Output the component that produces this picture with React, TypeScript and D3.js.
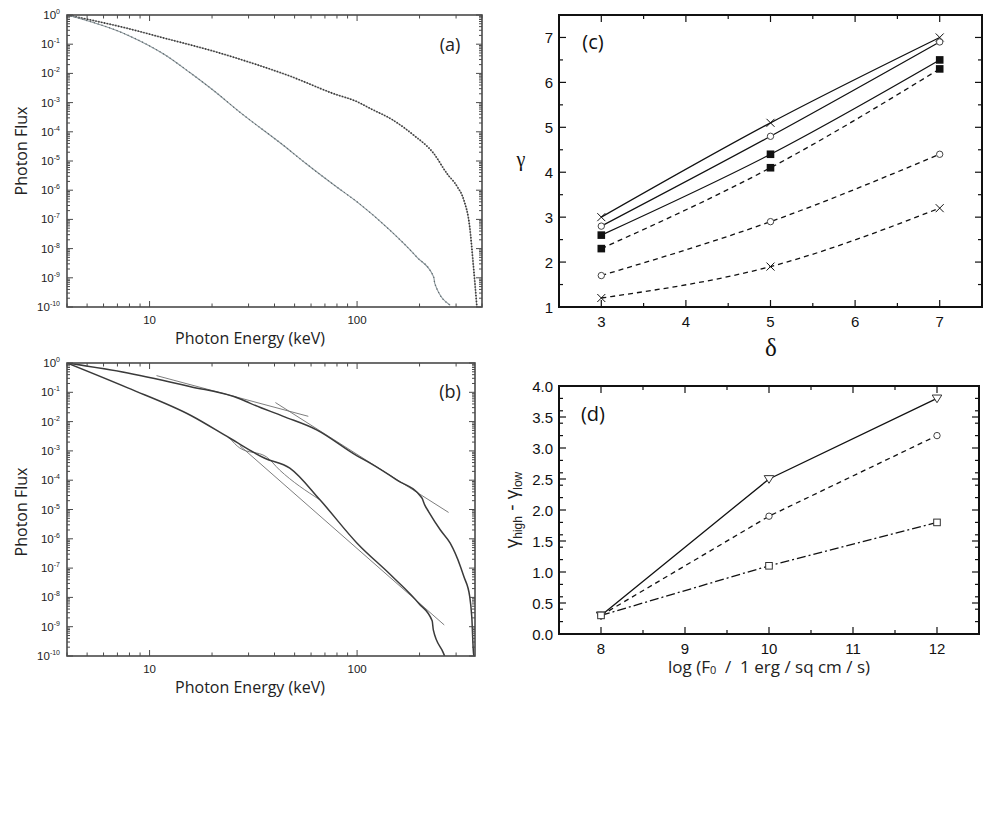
import React from 'react';
import * as d3 from 'd3';

type Pt = [number, number]; // [energy keV, log10 flux]

// ---- panels (a) and (b): photon spectra
const energyLabels = [10, 100];
const fluxExponents = [0, -1, -2, -3, -4, -5, -6, -7, -8, -9, -10];

const aHard: Pt[] = [
  [4, 0], [7.85, -0.46], [11.9, -0.8], [19.9, -1.22], [31.6, -1.66], [47.4, -2.09],
  [76.8, -2.69], [100, -2.97], [115.6, -3.2], [149, -3.6], [187, -4.11], [234, -4.74],
  [271, -5.43], [304, -5.88], [327, -6.34], [349, -7.26], [364, -8.63], [378, -10],
];
const aSoft: Pt[] = [
  [4, 0], [7.85, -0.69], [11.9, -1.37], [15.7, -1.98], [20.2, -2.57], [27.7, -3.37],
  [44.1, -4.46], [56.1, -5.06], [79.8, -5.89], [100, -6.4], [144, -7.37], [194, -8.29],
  [234, -8.97], [237, -9.2], [281, -9.94],
];

const bHard: Pt[] = [
  [4, 0], [7.85, -0.34], [15.6, -0.8], [27.2, -1.22], [30.4, -1.37], [44.1, -1.82],
  [63.8, -2.28], [100, -3.17], [115.6, -3.42], [155, -3.99], [205, -4.6], [212, -4.85],
  [221, -5.07], [252, -5.7], [281, -6.15], [315, -6.95], [327, -7.29], [349, -7.97],
  [357, -8.66], [364, -9.91], [366, -10],
];
const bHardLowFit: Pt[] = [[10.8, -0.43], [58.2, -1.82]];
const bHardHighFit: Pt[] = [[40.4, -1.35], [276, -5.1]];
const bSoft: Pt[] = [
  [4, 0], [7.85, -0.85], [15.9, -1.8], [24.3, -2.56], [35.9, -3.25], [47.4, -3.59],
  [66.2, -4.67], [100, -6.15], [147, -7.27], [198, -8.2], [230, -8.8], [233, -9.11],
  [261, -9.91], [264, -10],
];
const bSoftAlt: Pt[] = [[24.3, -2.56], [27.2, -2.9], [36.5, -3.2], [42.3, -3.65], [66.2, -4.67]];
const bSoftHighFit: Pt[] = [[27.2, -2.82], [263, -8.94]];

// ---- panel (c): gamma vs delta
const deltaValues = [3, 5, 7];
const deltaTicks = [3, 4, 5, 6, 7];
const gammaTicks = [1, 2, 3, 4, 5, 6, 7];
const gammaSolidCross = [3.0, 5.1, 7.0];
const gammaSolidCircle = [2.8, 4.8, 6.9];
const gammaSolidSquare = [2.6, 4.4, 6.5];
const gammaDashSquare = [2.3, 4.1, 6.3];
const gammaDashCircle = [1.7, 2.9, 4.4];
const gammaDashCross = [1.2, 1.9, 3.2];

// ---- panel (d): gamma_high - gamma_low vs log F0
const logF0Values = [8, 10, 12];
const logF0Ticks = [8, 9, 10, 11, 12];
const diffTicks = [0, 0.5, 1, 1.5, 2, 2.5, 3, 3.5, 4];
const diffSolidTriangle = [0.3, 2.5, 3.8];
const diffDashCircle = [0.3, 1.9, 3.2];
const diffDashDotSquare = [0.3, 1.1, 1.8];

const SANS = '"Liberation Sans", Arial, sans-serif';
const OPEN = '"Open Sans", "Noto Sans", sans-serif';
const SERIF = '"Liberation Serif", "DejaVu Serif", serif';
const NB = '\u00a0';

interface Curve { pts: Pt[]; stroke: string; width: number; dash?: string }

interface LogPanelProps {
  id: string; x0: number; y0: number; x1: number; y1: number; eMax: number;
  tag: string; tagY: number; fluxLabelY: number; curves: Curve[];
}

const LogPanel = ({ id, x0, y0, x1, y1, eMax, tag, tagY, fluxLabelY, curves }: LogPanelProps) => {
  const xs = d3.scaleLog().domain([4, eMax]).range([x0, x1]);
  const ys = d3.scaleLog().domain([1e-10, 1]).range([y1, y0]);
  const line = d3.line<Pt>()
    .x(d => xs(d[0]))
    .y(d => ys(Math.pow(10, d[1])))
    .curve(d3.curveMonotoneX);
  const isDecade = (v: number) => Math.abs(Math.log10(v) - Math.round(Math.log10(v))) < 1e-6;
  const xt = xs.ticks();
  const yt = ys.ticks(12);
  const frame = '#4a4a4a';
  return (
    <g>
      <defs>
        <clipPath id={id}><rect x={x0} y={y0} width={x1 - x0} height={y1 - y0} /></clipPath>
      </defs>
      <g clipPath={`url(#${id})`}>
        {curves.map((c, i) => (
          <path key={i} d={line(c.pts) || ''} fill="none" stroke={c.stroke}
            strokeWidth={c.width} strokeDasharray={c.dash} strokeLinejoin="round" />
        ))}
      </g>
      {xt.map((t, i) => {
        const len = isDecade(t) ? 6 : 3.5;
        const x = xs(t);
        return (
          <g key={'x' + i} stroke={frame} strokeWidth={1}>
            <line x1={x} x2={x} y1={y1} y2={y1 - len} />
            <line x1={x} x2={x} y1={y0} y2={y0 + len} />
          </g>
        );
      })}
      {yt.map((t, i) => {
        const len = isDecade(t) ? 6 : 3;
        const y = ys(t);
        return (
          <g key={'y' + i} stroke={frame} strokeWidth={1}>
            <line x1={x0} x2={x0 + len} y1={y} y2={y} />
            <line x1={x1} x2={x1 - len} y1={y} y2={y} />
          </g>
        );
      })}
      <rect x={x0} y={y0} width={x1 - x0} height={y1 - y0} fill="none" stroke={frame} strokeWidth={1.6} />
      {energyLabels.map(t => (
        <text key={t} x={xs(t)} y={y1 + 17} textAnchor="middle" fontSize={11.5}
          fontFamily={SANS} fill="#222">{t}</text>
      ))}
      {fluxExponents.map(e => (
        <text key={e} x={x0 - 7} y={ys(Math.pow(10, e)) + 4} textAnchor="end" fontSize={11.5}
          fontFamily={SANS} fill="#222">10<tspan dy={-5} fontSize={7}>{e}</tspan></text>
      ))}
      <text x={250} y={y1 + 37} textAnchor="middle" fontSize={16} fontFamily={OPEN} fill="#222">
        Photon Energy (keV)
      </text>
      <text transform={`translate(27,${fluxLabelY}) rotate(-90)`} textAnchor="middle" fontSize={16}
        fontFamily={OPEN} fill="#222">Photon Flux</text>
      <text x={450} y={tagY} textAnchor="middle" fontSize={18} fontFamily={OPEN} fill="#222">{tag}</text>
    </g>
  );
};

type MarkerKind = 'cross' | 'circle' | 'fsquare' | 'square' | 'tri';
interface Series { ys: number[]; dash?: string; marker: MarkerKind }

const Marker = ({ kind, x, y }: { kind: MarkerKind; x: number; y: number }) => {
  if (kind === 'cross') {
    const s = 4;
    return (
      <g stroke="#111" strokeWidth={1}>
        <line x1={x - s} y1={y - s} x2={x + s} y2={y + s} />
        <line x1={x - s} y1={y + s} x2={x + s} y2={y - s} />
      </g>
    );
  }
  if (kind === 'circle') return <circle cx={x} cy={y} r={3.2} fill="#fff" stroke="#444" strokeWidth={1} />;
  if (kind === 'fsquare') return <rect x={x - 3.8} y={y - 3.8} width={7.6} height={7.6} fill="#111" />;
  if (kind === 'square') return <rect x={x - 3.3} y={y - 3.3} width={6.6} height={6.6} fill="#fff" stroke="#333" strokeWidth={1} />;
  const s = 4.8;
  return <path d={`M${x - s},${y - s * 0.7}L${x + s},${y - s * 0.7}L${x},${y + s * 0.9}Z`} fill="#fff" stroke="#333" strokeWidth={1} />;
};

interface LinPanelProps {
  x0: number; y0: number; x1: number; y1: number;
  xDomain: [number, number]; yDomain: [number, number];
  xValues: number[]; xLabels: number[]; yLabels: number[];
  xCount: number; yCount: number; yFmt: (v: number) => string;
  series: Series[]; curved: boolean; tag: string; tagY: number;
  children?: React.ReactNode;
}

const LinPanel = (p: LinPanelProps) => {
  const { x0, y0, x1, y1 } = p;
  const xs = d3.scaleLinear().domain(p.xDomain).range([x0, x1]);
  const ys = d3.scaleLinear().domain(p.yDomain).range([y1, y0]);
  const near = (arr: number[], v: number) => arr.some(a => Math.abs(a - v) < 1e-6);
  const xMajor = xs.ticks(p.xCount);
  const yMajor = ys.ticks(p.yCount);
  const xMinor = xs.ticks(p.xCount * 2).filter(v => !near(p.xLabels, v));
  const yMinor = ys.ticks(p.yCount * 2).filter(v => !near(yMajor, v));
  const line = d3.line<number>()
    .x((_, i) => xs(p.xValues[i]))
    .y(d => ys(d))
    .curve(p.curved ? d3.curveMonotoneX : d3.curveLinear);
  return (
    <g>
      {p.series.map((s, i) => (
        <path key={i} d={line(s.ys) || ''} fill="none" stroke="#111" strokeWidth={1.3}
          strokeDasharray={s.dash} />
      ))}
      {p.series.map((s, i) => s.ys.map((v, j) => (
        <Marker key={i + '-' + j} kind={s.marker} x={xs(p.xValues[j])} y={ys(v)} />
      )))}
      <g stroke="#111" strokeWidth={1.2}>
        {xMajor.filter(v => near(p.xLabels, v)).map(v => (
          <g key={'xm' + v}>
            <line x1={xs(v)} x2={xs(v)} y1={y1} y2={y1 - 7} />
            <line x1={xs(v)} x2={xs(v)} y1={y0} y2={y0 + 7} />
          </g>
        ))}
        {xMinor.map(v => (
          <g key={'xn' + v}>
            <line x1={xs(v)} x2={xs(v)} y1={y1} y2={y1 - 4} />
            <line x1={xs(v)} x2={xs(v)} y1={y0} y2={y0 + 4} />
          </g>
        ))}
        {yMajor.map(v => (
          <g key={'ym' + v}>
            <line x1={x0} x2={x0 + 7} y1={ys(v)} y2={ys(v)} />
            <line x1={x1} x2={x1 - 7} y1={ys(v)} y2={ys(v)} />
          </g>
        ))}
        {yMinor.map(v => (
          <g key={'yn' + v}>
            <line x1={x0} x2={x0 + 4} y1={ys(v)} y2={ys(v)} />
            <line x1={x1} x2={x1 - 4} y1={ys(v)} y2={ys(v)} />
          </g>
        ))}
      </g>
      <rect x={x0} y={y0} width={x1 - x0} height={y1 - y0} fill="none" stroke="#111" strokeWidth={2} />
      {p.xLabels.map(v => (
        <text key={'xl' + v} x={xs(v)} y={y1 + 20} textAnchor="middle" fontSize={15}
          fontFamily={SANS} fill="#111">{v}</text>
      ))}
      {p.yLabels.map(v => (
        <text key={'yl' + v} x={x0 - 6} y={ys(v) + 5.5} textAnchor="end" fontSize={15}
          fontFamily={SANS} fill="#111">{p.yFmt(v)}</text>
      ))}
      <text x={593} y={p.tagY} textAnchor="middle" fontSize={20} fontFamily={OPEN} fill="#111">{p.tag}</text>
      {p.children}
    </g>
  );
};

const App = () => {
  const hard = '#3a3a3a';
  return (
    <svg width={1000} height={825} viewBox="0 0 1000 825"
      style={{ position: 'absolute', left: 0, top: 0, background: '#fff' }}>
      <rect x={0} y={0} width={1000} height={825} fill="#fff" />
      <LogPanel id="clipA" x0={67} y0={15} x1={482} y1={307} eMax={400} tag="(a)" tagY={51}
        fluxLabelY={151}
        curves={[
          { pts: aHard, stroke: '#8a8a8a', width: 1 },
          { pts: aHard, stroke: hard, width: 1.7, dash: '1.3 1.6' },
          { pts: aSoft, stroke: '#8b979c', width: 1.1 },
          { pts: aSoft, stroke: '#5d676b', width: 1.3, dash: '1 3' },
        ]} />
      <LogPanel id="clipB" x0={67} y0={363} x1={475} y1={656} eMax={370} tag="(b)" tagY={398}
        fluxLabelY={512}
        curves={[
          { pts: bHardLowFit, stroke: '#6e6e6e', width: 0.9 },
          { pts: bHardHighFit, stroke: '#6e6e6e', width: 0.9 },
          { pts: bSoftAlt, stroke: '#7e7e7e', width: 1 },
          { pts: bSoftHighFit, stroke: '#6e6e6e', width: 0.9 },
          { pts: bHard, stroke: hard, width: 1.5 },
          { pts: bSoft, stroke: hard, width: 1.5 },
        ]} />
      <LinPanel x0={559} y0={15} x1={982} y1={307} xDomain={[2.5, 7.5]} yDomain={[1, 7.5]}
        xValues={deltaValues} xLabels={deltaTicks} yLabels={gammaTicks} xCount={5} yCount={7}
        yFmt={v => String(v)} curved tag="(c)" tagY={49}
        series={[
          { ys: gammaSolidCross, marker: 'cross' },
          { ys: gammaSolidCircle, marker: 'circle' },
          { ys: gammaSolidSquare, marker: 'fsquare' },
          { ys: gammaDashSquare, marker: 'fsquare', dash: '5 4' },
          { ys: gammaDashCircle, marker: 'circle', dash: '5 4' },
          { ys: gammaDashCross, marker: 'cross', dash: '5 4' },
        ]}>
        <text x={771} y={356} textAnchor="middle" fontSize={25} fontFamily={SERIF} fill="#111">δ</text>
        <text x={521} y={166} textAnchor="middle" fontSize={20} fontFamily={SERIF} fill="#111">γ</text>
      </LinPanel>
      <LinPanel x0={559} y0={386} x1={979} y1={634} xDomain={[7.5, 12.5]} yDomain={[0, 4]}
        xValues={logF0Values} xLabels={logF0Ticks} yLabels={diffTicks} xCount={5} yCount={8}
        yFmt={v => v.toFixed(1)} curved={false} tag="(d)" tagY={421}
        series={[
          { ys: diffSolidTriangle, marker: 'tri' },
          { ys: diffDashCircle, marker: 'circle', dash: '5 4' },
          { ys: diffDashDotSquare, marker: 'square', dash: '9 3 2 3' },
        ]}>
        <text x={769} y={673} textAnchor="middle" fontSize={17} fontFamily={OPEN} fill="#222">
          log (F<tspan fontSize={11} dy={1}>0</tspan>
          <tspan dy={-1}>{`${NB}${NB}/${NB}${NB}1 erg / sq cm / s)`}</tspan>
        </text>
        <text transform="translate(518,510) rotate(-90)" textAnchor="middle" fontSize={19}
          fontFamily={SANS} fill="#222">
          γ<tspan fontSize={12} dy={4}>high</tspan><tspan dy={-4}>{' - '}</tspan>γ<tspan fontSize={12} dy={4}>low</tspan>
        </text>
      </LinPanel>
    </svg>
  );
};

export default App;
